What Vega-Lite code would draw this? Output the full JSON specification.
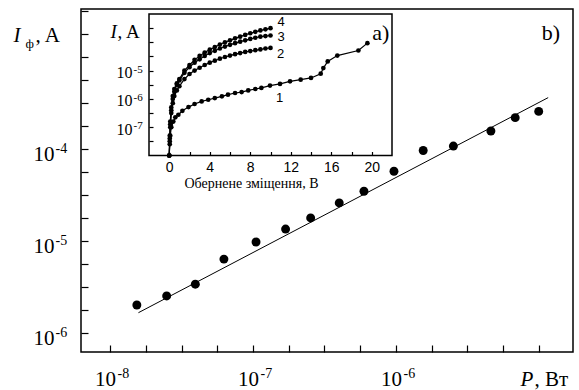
{
  "$schema": "https://vega.github.io/schema/vega-lite/v6.json",
  "width": 492,
  "height": 343,
  "autosize": {"type": "none"},
  "padding": {"left": 81, "top": 9, "right": 6, "bottom": 38},
  "config": {
    "view": {"stroke": "black", "strokeWidth": 1.5},
    "axis": {"grid": false, "domainColor": "black", "tickColor": "black", "labelColor": "black", "titleColor": "black", "labelFlush": false, "labelOverlap": false, "labelBound": false, "titleFontWeight": "normal", "domainWidth": 1.5, "tickWidth": 1.2, "titleAngle": 0, "titleAlign": "left", "titleBaseline": "alphabetic", "titlePadding": 0}
  },
  "datasets": {
    "main": [
      {"P": 1.54e-8, "I": 2.0e-6}, {"P": 2.49e-8, "I": 2.51e-6}, {"P": 3.95e-8, "I": 3.37e-6},
      {"P": 6.26e-8, "I": 6.31e-6}, {"P": 1.05e-7, "I": 9.68e-6}, {"P": 1.69e-7, "I": 1.34e-5},
      {"P": 2.53e-7, "I": 1.77e-5}, {"P": 4.01e-7, "I": 2.58e-5}, {"P": 5.97e-7, "I": 3.45e-5},
      {"P": 9.68e-7, "I": 5.70e-5}, {"P": 1.55e-6, "I": 9.57e-5}, {"P": 2.52e-6, "I": 1.07e-4},
      {"P": 4.61e-6, "I": 1.56e-4}, {"P": 6.82e-6, "I": 2.18e-4}, {"P": 9.96e-6, "I": 2.55e-4}
    ],
    "fit": [{"P": 1.58e-8, "I": 1.65e-6}, {"P": 1.16e-5, "I": 3.6e-4}],
    "blabel": [{"P": 1.213e-5, "I": 1.83e-3, "t": "b)"}],
    "frame": [{"x1": -2, "x2": 22, "y1": 1e-8, "y2": 1e-3}],
    "clabels": [
      {"V": 11.05, "I": 5.3e-4, "t": "4"}, {"V": 11.05, "I": 1.55e-4, "t": "3"},
      {"V": 11.0, "I": 3.95e-5, "t": "2"}, {"V": 10.9, "I": 1.1e-6, "t": "1"}
    ],
    "alabel": [{"V": 20.9, "I": 2.1e-4, "t": "a)"}],
    "inset": [
      {"c": "4", "V": 0, "I": 1e-8}, {"c": "4", "V": 0.05, "I": 5.01e-8}, {"c": "4", "V": 0.1, "I": 1.58e-7}, {"c": "4", "V": 0.2, "I": 5.01e-7},
      {"c": "4", "V": 0.35, "I": 1.26e-6}, {"c": "4", "V": 0.5, "I": 2.24e-6}, {"c": "4", "V": 0.75, "I": 3.55e-6}, {"c": "4", "V": 1.0, "I": 5.01e-6},
      {"c": "4", "V": 1.5, "I": 1.0e-5}, {"c": "4", "V": 2.0, "I": 1.58e-5}, {"c": "4", "V": 2.5, "I": 2.40e-5}, {"c": "4", "V": 3.0, "I": 3.31e-5},
      {"c": "4", "V": 3.5, "I": 4.37e-5}, {"c": "4", "V": 4.0, "I": 5.50e-5}, {"c": "4", "V": 4.5, "I": 6.76e-5}, {"c": "4", "V": 5.0, "I": 8.32e-5},
      {"c": "4", "V": 5.5, "I": 1.0e-4}, {"c": "4", "V": 6.0, "I": 1.17e-4}, {"c": "4", "V": 6.5, "I": 1.38e-4}, {"c": "4", "V": 7.0, "I": 1.58e-4},
      {"c": "4", "V": 7.5, "I": 1.82e-4}, {"c": "4", "V": 8.0, "I": 2.09e-4}, {"c": "4", "V": 8.5, "I": 2.34e-4}, {"c": "4", "V": 9.0, "I": 2.63e-4},
      {"c": "4", "V": 9.5, "I": 2.88e-4}, {"c": "4", "V": 10.0, "I": 3.16e-4},
      {"c": "3", "V": 0, "I": 1e-8}, {"c": "3", "V": 0.05, "I": 3.98e-8}, {"c": "3", "V": 0.1, "I": 1.26e-7}, {"c": "3", "V": 0.2, "I": 3.98e-7},
      {"c": "3", "V": 0.35, "I": 1.0e-6}, {"c": "3", "V": 0.5, "I": 1.78e-6}, {"c": "3", "V": 0.75, "I": 3.16e-6}, {"c": "3", "V": 1.0, "I": 4.47e-6},
      {"c": "3", "V": 1.5, "I": 8.32e-6}, {"c": "3", "V": 2.0, "I": 1.32e-5}, {"c": "3", "V": 2.5, "I": 1.91e-5}, {"c": "3", "V": 3.0, "I": 2.51e-5},
      {"c": "3", "V": 3.5, "I": 3.31e-5}, {"c": "3", "V": 4.0, "I": 4.17e-5}, {"c": "3", "V": 4.5, "I": 5.01e-5}, {"c": "3", "V": 5.0, "I": 6.03e-5},
      {"c": "3", "V": 5.5, "I": 7.08e-5}, {"c": "3", "V": 6.0, "I": 8.13e-5}, {"c": "3", "V": 6.5, "I": 9.33e-5}, {"c": "3", "V": 7.0, "I": 1.05e-4},
      {"c": "3", "V": 7.5, "I": 1.17e-4}, {"c": "3", "V": 8.0, "I": 1.32e-4}, {"c": "3", "V": 8.5, "I": 1.45e-4}, {"c": "3", "V": 9.0, "I": 1.58e-4},
      {"c": "3", "V": 9.5, "I": 1.66e-4}, {"c": "3", "V": 10.0, "I": 1.74e-4},
      {"c": "2", "V": 0, "I": 1e-8}, {"c": "2", "V": 0.05, "I": 3.16e-8}, {"c": "2", "V": 0.1, "I": 1.0e-7}, {"c": "2", "V": 0.2, "I": 3.16e-7},
      {"c": "2", "V": 0.35, "I": 7.08e-7}, {"c": "2", "V": 0.5, "I": 1.26e-6}, {"c": "2", "V": 0.75, "I": 2.0e-6}, {"c": "2", "V": 1.0, "I": 2.82e-6},
      {"c": "2", "V": 1.5, "I": 5.01e-6}, {"c": "2", "V": 2.0, "I": 7.59e-6}, {"c": "2", "V": 2.5, "I": 1.0e-5}, {"c": "2", "V": 3.0, "I": 1.26e-5},
      {"c": "2", "V": 3.5, "I": 1.58e-5}, {"c": "2", "V": 4.0, "I": 1.91e-5}, {"c": "2", "V": 4.5, "I": 2.24e-5}, {"c": "2", "V": 5.0, "I": 2.63e-5},
      {"c": "2", "V": 5.5, "I": 3.02e-5}, {"c": "2", "V": 6.0, "I": 3.39e-5}, {"c": "2", "V": 6.5, "I": 3.80e-5}, {"c": "2", "V": 7.0, "I": 4.17e-5},
      {"c": "2", "V": 7.5, "I": 4.57e-5}, {"c": "2", "V": 8.0, "I": 4.90e-5}, {"c": "2", "V": 8.5, "I": 5.25e-5}, {"c": "2", "V": 9.0, "I": 5.62e-5},
      {"c": "2", "V": 9.5, "I": 6.03e-5}, {"c": "2", "V": 10.0, "I": 6.31e-5},
      {"c": "1", "V": 0, "I": 1e-8}, {"c": "1", "V": 0.05, "I": 2.51e-8}, {"c": "1", "V": 0.1, "I": 5.01e-8}, {"c": "1", "V": 0.2, "I": 1.0e-7},
      {"c": "1", "V": 0.4, "I": 1.58e-7}, {"c": "1", "V": 0.6, "I": 2.24e-7}, {"c": "1", "V": 0.9, "I": 2.75e-7}, {"c": "1", "V": 1.3, "I": 3.80e-7},
      {"c": "1", "V": 1.9, "I": 5.13e-7}, {"c": "1", "V": 2.5, "I": 6.61e-7}, {"c": "1", "V": 3.2, "I": 8.13e-7}, {"c": "1", "V": 3.85, "I": 9.33e-7},
      {"c": "1", "V": 4.5, "I": 1.07e-6}, {"c": "1", "V": 5.2, "I": 1.23e-6}, {"c": "1", "V": 5.8, "I": 1.41e-6}, {"c": "1", "V": 6.5, "I": 1.62e-6},
      {"c": "1", "V": 7.15, "I": 1.74e-6}, {"c": "1", "V": 7.8, "I": 2.0e-6}, {"c": "1", "V": 8.5, "I": 2.24e-6}, {"c": "1", "V": 9.1, "I": 2.45e-6},
      {"c": "1", "V": 9.95, "I": 2.95e-6}, {"c": "1", "V": 10.94, "I": 3.39e-6}, {"c": "1", "V": 11.93, "I": 4.17e-6}, {"c": "1", "V": 12.98, "I": 4.79e-6},
      {"c": "1", "V": 14.0, "I": 5.50e-6}, {"c": "1", "V": 14.96, "I": 7.76e-6}, {"c": "1", "V": 15.22, "I": 1.23e-5}, {"c": "1", "V": 15.65, "I": 2.11e-5},
      {"c": "1", "V": 16.6, "I": 3.39e-5}, {"c": "1", "V": 18.68, "I": 5.13e-5}, {"c": "1", "V": 19.57, "I": 9.33e-5}
    ]
  },
  "resolve": {"scale": {"x": "independent", "y": "independent"}, "axis": {"x": "independent", "y": "independent"}},
  "layer": [
    {
      "resolve": {"axis": {"x": "independent", "y": "independent"}},
      "layer": [
        {
          "data": {"name": "main"},
          "mark": {"type": "circle", "size": 80, "color": "black", "opacity": 1},
          "encoding": {
            "x": {"field": "P", "type": "quantitative",
              "scale": {"type": "log", "domain": [6.266e-9, 1.73e-5], "nice": false},
              "axis": {"orient": "bottom", "values": [1e-8, 1e-7, 1e-6], "ticks": false, "domain": false,
                "labelExpr": "'10'",
                "labelFont": "Liberation Serif", "labelFontSize": 21, "labelAlign": "center", "labelBaseline": "alphabetic", "labelPadding": 33, "labelOffset": -5,
                "title": "P", "titleFont": "Liberation Serif", "titleFontStyle": "italic", "titleFontSize": 21, "titleX": 439, "titleY": 33}},
            "y": {"field": "I", "type": "quantitative",
              "scale": {"type": "log", "domain": [6.166e-7, 3.311e-3], "nice": false},
              "axis": {"orient": "left", "values": [1e-6, 1e-5, 1e-4], "ticks": false, "domain": false,
                "labelExpr": "'10'",
                "labelFont": "Liberation Serif", "labelFontSize": 21, "labelAlign": "right", "labelBaseline": "alphabetic", "labelPadding": 27, "labelOffset": 12,
                "title": "I", "titleFont": "Liberation Serif", "titleFontStyle": "italic", "titleFontSize": 21, "titleX": -68, "titleY": 32}}
          }
        },
        {
          "data": {"name": "fit"},
          "mark": {"type": "line", "color": "black", "strokeWidth": 1},
          "encoding": {
            "x": {"field": "P", "type": "quantitative",
              "scale": {"type": "log", "domain": [6.266e-9, 1.73e-5], "nice": false},
              "axis": {"orient": "bottom", "values": [1e-8, 1e-7, 1e-6], "ticks": false, "domain": false,
                "labelExpr": "'' + round(log(datum.value)/LN10)",
                "labelFont": "Liberation Serif", "labelFontSize": 14, "labelAlign": "left", "labelBaseline": "alphabetic", "labelPadding": 25, "labelOffset": 7,
                "title": ", Вт", "titleFont": "Liberation Serif", "titleFontSize": 21, "titleX": 453, "titleY": 33}},
            "y": {"field": "I", "type": "quantitative",
              "scale": {"type": "log", "domain": [6.166e-7, 3.311e-3], "nice": false},
              "axis": {"orient": "left", "values": [1e-6, 1e-5, 1e-4], "ticks": false, "domain": false,
                "labelExpr": "'' + round(log(datum.value)/LN10)",
                "labelFont": "Liberation Serif", "labelFontSize": 14, "labelAlign": "left", "labelBaseline": "alphabetic", "labelPadding": 26, "labelOffset": 4,
                "title": "ф", "titleFont": "Liberation Serif", "titleFontSize": 13, "titleX": -56, "titleY": 38}}
          }
        },
        {
          "data": {"name": "blabel"},
          "mark": {"type": "text", "font": "Liberation Serif", "fontSize": 22, "align": "center", "baseline": "middle", "color": "black"},
          "encoding": {
            "x": {"field": "P", "type": "quantitative", "scale": {"type": "log", "domain": [6.266e-9, 1.73e-5], "nice": false},
              "axis": {"orient": "top", "offset": -343, "values": [1e-8, 1.7783e-8, 3.1623e-8, 5.6234e-8, 1e-7, 1.7783e-7, 3.1623e-7, 5.6234e-7, 1e-6, 1.7783e-6, 3.1623e-6, 5.6234e-6, 1e-5],
                "labels": false, "domain": false, "ticks": true, "tickSize": 7, "title": null}},
            "y": {"field": "I", "type": "quantitative",
              "scale": {"type": "log", "domain": [6.166e-7, 3.311e-3], "nice": false},
              "axis": {"orient": "right", "offset": -492, "values": [1e-6, 1.7783e-6, 3.1623e-6, 5.6234e-6, 1e-5, 1.7783e-5, 3.1623e-5, 5.6234e-5, 1e-4, 1.7783e-4, 3.1623e-4, 5.6234e-4, 1e-3, 1.7783e-3, 3.1623e-3],
                "labels": false, "domain": false, "ticks": true, "tickSize": 7,
                "title": ", A", "titleFont": "Liberation Serif", "titleFontSize": 21, "titleX": -46, "titleY": 32}},
            "text": {"field": "t"}
          }
        }
      ]
    },
    {
      "resolve": {"axis": {"x": "independent", "y": "independent"}},
      "layer": [
        {
          "data": {"name": "frame"},
          "mark": {"type": "rect", "fill": "white", "stroke": "black", "strokeWidth": 1.5},
          "encoding": {
            "x": {"field": "x1", "type": "quantitative",
              "scale": {"type": "linear", "domain": [-2, 22], "range": [68, 311], "nice": false, "zero": false},
              "axis": {"orient": "bottom", "offset": -196.5, "values": [0, 4, 8, 12, 16, 20], "ticks": false, "domain": false, "zindex": 1,
                "labelFont": "Liberation Sans", "labelFontSize": 14, "labelBaseline": "top", "labelPadding": 5,
                "title": "Обернене зміщення, В", "titleFont": "Liberation Serif", "titleFontSize": 14, "titleAlign": "center", "titleX": 170, "titleY": 31.5}},
            "x2": {"field": "x2"},
            "y": {"field": "y1", "type": "quantitative",
              "scale": {"type": "log", "domain": [1e-8, 1e-3], "range": [146.5, 5], "nice": false},
              "axis": {"orient": "left", "offset": -68, "values": [1e-7, 1e-6, 1e-5], "ticks": false, "domain": false, "zindex": 1,
                "labelExpr": "'10'",
                "labelFont": "Liberation Serif", "labelFontSize": 16, "labelAlign": "right", "labelBaseline": "alphabetic", "labelPadding": 17, "labelOffset": 7,
                "title": "I", "titleFont": "Liberation Serif", "titleFontStyle": "italic", "titleFontSize": 19, "titleX": -39, "titleY": 28}},
            "y2": {"field": "y2"}
          }
        },
        {
          "data": {"name": "inset"},
          "mark": {"type": "line", "color": "black", "strokeWidth": 1.2},
          "encoding": {
            "x": {"field": "V", "type": "quantitative",
              "scale": {"type": "linear", "domain": [-2, 22], "range": [68, 311], "nice": false, "zero": false},
              "axis": {"orient": "top", "offset": -146.5, "values": [0, 2, 4, 6, 8, 10, 12, 14, 16, 18, 20], "labels": false, "domain": false, "ticks": true, "tickSize": 4, "zindex": 1, "title": null}},
            "y": {"field": "I", "type": "quantitative",
              "scale": {"type": "log", "domain": [1e-8, 1e-3], "range": [146.5, 5], "nice": false},
              "axis": {"orient": "left", "offset": -68, "values": [1e-7, 1e-6, 1e-5], "ticks": false, "domain": false, "zindex": 1,
                "labelExpr": "'' + round(log(datum.value)/LN10)",
                "labelFont": "Liberation Serif", "labelFontSize": 11, "labelAlign": "left", "labelBaseline": "alphabetic", "labelPadding": 16, "labelOffset": 1.5,
                "title": ", A", "titleFont": "Liberation Serif", "titleFontSize": 19, "titleX": -32, "titleY": 28}},
            "detail": {"field": "c"}
          }
        },
        {
          "data": {"name": "inset"},
          "mark": {"type": "circle", "size": 22, "color": "black", "opacity": 1},
          "encoding": {
            "x": {"field": "V", "type": "quantitative",
              "scale": {"type": "linear", "domain": [-2, 22], "range": [68, 311], "nice": false, "zero": false}, "axis": null},
            "y": {"field": "I", "type": "quantitative",
              "scale": {"type": "log", "domain": [1e-8, 1e-3], "range": [146.5, 5], "nice": false},
              "axis": {"orient": "right", "offset": -424, "values": [3.1623e-8, 1e-7, 3.1623e-7, 1e-6, 3.1623e-6, 1e-5, 3.1623e-5, 1e-4, 3.1623e-4], "labels": false, "domain": false, "ticks": true, "tickSize": 4, "zindex": 1, "title": null}}
          }
        },
        {
          "data": {"name": "clabels"},
          "mark": {"type": "text", "font": "Liberation Sans", "fontSize": 13, "align": "center", "baseline": "middle", "color": "black"},
          "encoding": {
            "x": {"field": "V", "type": "quantitative",
              "scale": {"type": "linear", "domain": [-2, 22], "range": [68, 311], "nice": false, "zero": false}, "axis": null},
            "y": {"field": "I", "type": "quantitative",
              "scale": {"type": "log", "domain": [1e-8, 1e-3], "range": [146.5, 5], "nice": false}, "axis": null},
            "text": {"field": "t"}
          }
        },
        {
          "data": {"name": "alabel"},
          "mark": {"type": "text", "font": "Liberation Serif", "fontSize": 22, "align": "center", "baseline": "middle", "color": "black"},
          "encoding": {
            "x": {"field": "V", "type": "quantitative",
              "scale": {"type": "linear", "domain": [-2, 22], "range": [68, 311], "nice": false, "zero": false}, "axis": null},
            "y": {"field": "I", "type": "quantitative",
              "scale": {"type": "log", "domain": [1e-8, 1e-3], "range": [146.5, 5], "nice": false}, "axis": null},
            "text": {"field": "t"}
          }
        }
      ]
    }
  ]
}
